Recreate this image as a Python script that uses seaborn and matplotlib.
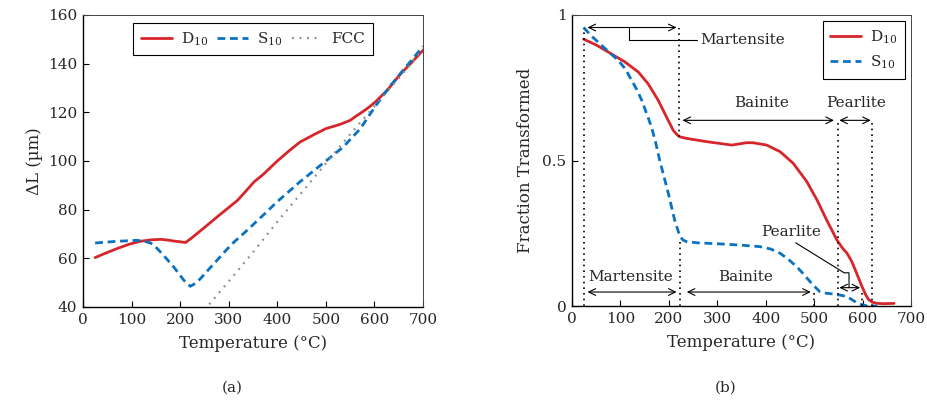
import matplotlib
matplotlib.use("Agg")
import matplotlib.pyplot as plt
from matplotlib.lines import Line2D
import seaborn as sns

# Dilatometry curves (left panel)
dil_d10_t = [25, 45, 70, 95, 118, 140, 160, 175, 187, 200, 211, 222, 235, 255, 276,
             297, 318, 337, 352, 370, 400, 425, 447, 475, 500, 530, 550, 565, 577,
             590, 602, 626, 653, 680, 700]
dil_d10_dl = [60.3, 62.0, 64.0, 65.8, 67.0, 67.6, 67.8, 67.5, 67.1, 66.8, 66.5, 68.1,
              70.2, 73.5, 77.0, 80.4, 83.8, 88.0, 91.4, 94.3, 100.0, 104.3, 107.8,
              110.8, 113.3, 115.1, 116.7, 118.8, 120.4, 122.3, 124.3, 129.0, 135.6,
              141.2, 145.5]
dil_s10_t = [25, 70, 111, 125, 139, 152, 166, 187, 208, 221, 232, 242, 259, 276,
             293, 311, 330, 349, 375, 400, 447, 500, 536, 571, 602, 632, 660, 700]
dil_s10_dl = [66.3, 67.0, 67.4, 67.1, 66.3, 64.2, 61.2, 56.4, 50.9, 48.5, 49.8, 51.7,
              55.5, 59.2, 63.0, 66.7, 70.1, 73.6, 78.5, 83.3, 91.5, 100.0, 105.8,
              113.3, 122.5, 130.7, 137.5, 147.1]
fcc_t = [260, 300, 350, 400, 450, 500, 550, 600, 650, 700]
fcc_dl = [41.1, 50.5, 62.5, 75.0, 87.0, 99.0, 111.0, 122.5, 134.0, 146.0]

# Fraction transformed (right panel)
fr_d10_t = [24, 50, 74.5, 109, 137, 157, 178, 195, 209, 216, 223, 240, 281, 330,
            345, 360, 374, 402, 430, 457, 485, 506, 526, 547, 558, 568, 577, 585,
            592, 599, 606, 612, 620, 630, 645, 665]
fr_d10 = [0.917, 0.897, 0.873, 0.839, 0.804, 0.764, 0.707, 0.650, 0.604, 0.590,
          0.581, 0.575, 0.564, 0.553, 0.557, 0.561, 0.561, 0.553, 0.530, 0.490, 0.427,
          0.364, 0.295, 0.227, 0.200, 0.181, 0.155, 0.124, 0.095, 0.066, 0.040,
          0.023, 0.013, 0.009, 0.008, 0.009]
fr_s10_t = [24, 40, 61, 78, 95, 110, 123, 134, 144, 154, 164, 173, 181, 190, 199,
            212, 223, 230, 237, 260, 300, 350, 388, 410, 430, 447, 464, 478, 492,
            502, 512, 525, 540, 555, 568, 578, 588, 600, 609, 630]
fr_s10 = [0.957, 0.928, 0.896, 0.870, 0.845, 0.815, 0.776, 0.743, 0.707, 0.662, 0.616,
          0.560, 0.501, 0.444, 0.387, 0.295, 0.238, 0.226, 0.221, 0.217, 0.214, 0.209,
          0.204, 0.196, 0.181, 0.160, 0.135, 0.110, 0.083, 0.065, 0.049, 0.044, 0.041,
          0.037, 0.032, 0.022, 0.011, 0.004, 0.0, 0.0]

RED = "#d7262b"
BLUE = "#0a72c0"
GRAY = "#8a8a8a"

sns.set_theme(style="ticks")
plt.rcParams["font.family"] = ["DejaVu Serif"]
plt.rcParams["mathtext.fontset"] = "dejavuserif"
plt.rcParams["font.size"] = 11
plt.rcParams["xtick.direction"] = "in"
plt.rcParams["ytick.direction"] = "in"

fig = plt.figure(figsize=(9.28, 4.0), dpi=100)
ax1 = fig.add_axes([83 / 928, 1 - 307 / 400, 340 / 928, 292 / 400])
ax2 = fig.add_axes([572 / 928, 1 - 306 / 400, 339 / 928, 291 / 400])

dash = (2.8, 1.7)
fcc_style = (0, (0.8, 2.6))

# ---- (a) dilatation ----
sns.lineplot(x=dil_d10_t, y=dil_d10_dl, ax=ax1, color=RED, lw=2.0, sort=False)
sns.lineplot(x=dil_s10_t, y=dil_s10_dl, ax=ax1, color=BLUE, lw=2.0, sort=False)
ax1.lines[-1].set_dashes(dash)
sns.lineplot(x=fcc_t, y=fcc_dl, ax=ax1, color=GRAY, lw=1.6, sort=False)
ax1.lines[-1].set_linestyle(fcc_style)
ax1.set_xlim(0, 700)
ax1.set_ylim(40, 160)
ax1.set_xticks(range(0, 701, 100))
ax1.set_yticks(range(40, 161, 20))
ax1.set_xlabel("Temperature (°C)", labelpad=6)
ax1.set_ylabel("ΔL (µm)", labelpad=4)

h1 = [Line2D([], [], color=RED, lw=2.0),
      Line2D([], [], color=BLUE, lw=2.0, dashes=dash),
      Line2D([], [], color=GRAY, lw=1.6, linestyle=fcc_style)]
leg1 = ax1.legend(h1, ["D$_{10}$", "S$_{10}$", "FCC"], ncol=3, loc="upper center",
                  frameon=True, fancybox=False, edgecolor="black", framealpha=1,
                  handlelength=2.0, handletextpad=0.6, columnspacing=0.6,
                  borderaxespad=0.5, borderpad=0.5)
leg1.get_frame().set_linewidth(0.8)

# ---- (b) fraction transformed ----
sns.lineplot(x=fr_d10_t, y=fr_d10, ax=ax2, color=RED, lw=2.0, sort=False)
sns.lineplot(x=fr_s10_t, y=fr_s10, ax=ax2, color=BLUE, lw=2.0, sort=False)
ax2.lines[-1].set_dashes(dash)
ax2.set_xlim(0, 700)
ax2.set_ylim(0, 1)
ax2.set_xticks(range(0, 701, 100))
ax2.set_yticks([0, 0.5, 1])
ax2.set_yticklabels(["0", "0.5", "1"])
ax2.set_xlabel("Temperature (°C)", labelpad=6)
ax2.set_ylabel("Fraction Transformed", labelpad=6)

h2 = [Line2D([], [], color=RED, lw=2.0),
      Line2D([], [], color=BLUE, lw=2.0, dashes=dash)]
leg2 = ax2.legend(h2, ["D$_{10}$", "S$_{10}$"], loc="upper right", frameon=True,
                  fancybox=False, edgecolor="black", framealpha=1, handlelength=2.0,
                  handletextpad=0.6, borderaxespad=0.4, borderpad=0.5, labelspacing=0.5)
leg2.get_frame().set_linewidth(0.8)

# Dotted guides marking the start/end temperatures of each transformation
dot = dict(color="black", lw=1.2, linestyle=(0, (1, 2.4)))
for x, y0, y1 in [(25, 0, 0.955), (221, 0.58, 0.955), (224, 0, 0.233),
                  (550, 0, 0.64), (620, 0, 0.64), (500, 0, 0.055), (598, 0, 0.055)]:
    ax2.plot([x, x], [y0, y1], **dot)

arrow = dict(arrowstyle="<->,head_length=0.45,head_width=0.22", color="black",
             lw=0.8, shrinkA=0, shrinkB=0)


def span(a, b, y):
    ax2.annotate("", xy=(a, y), xytext=(b, y), arrowprops=arrow)


span(32, 216, 0.957)
ax2.plot([117, 117, 258], [0.957, 0.915, 0.915], color="black", lw=0.8)
ax2.text(265, 0.915, "Martensite", ha="left", va="center")

span(228, 541, 0.638)
ax2.text(391, 0.696, "Bainite", ha="center", va="center")
span(552, 617, 0.638)
ax2.text(586, 0.696, "Pearlite", ha="center", va="center")

span(32, 216, 0.048)
ax2.text(121, 0.10, "Martensite", ha="center", va="center")
span(237, 493, 0.048)
ax2.text(359, 0.10, "Bainite", ha="center", va="center")

span(552, 595, 0.063)
ax2.plot([462, 562, 572, 572], [0.217, 0.114, 0.114, 0.063], color="black", lw=0.8)
ax2.text(453, 0.256, "Pearlite", ha="center", va="center")

for ax in (ax1, ax2):
    for side in ("left", "bottom"):
        ax.spines[side].set_color("black")
        ax.spines[side].set_linewidth(1.0)
    for side in ("top", "right"):
        ax.spines[side].set_color("#444444")
        ax.spines[side].set_linewidth(0.7)
    ax.tick_params(length=4, width=0.8, color="black", labelsize=11, pad=4)

fig.text(232 / 928, 1 - 388 / 400, "(a)", ha="center", va="center", fontsize=11)
fig.text(726 / 928, 1 - 388 / 400, "(b)", ha="center", va="center", fontsize=11)

fig.savefig("out.png", dpi=100)
